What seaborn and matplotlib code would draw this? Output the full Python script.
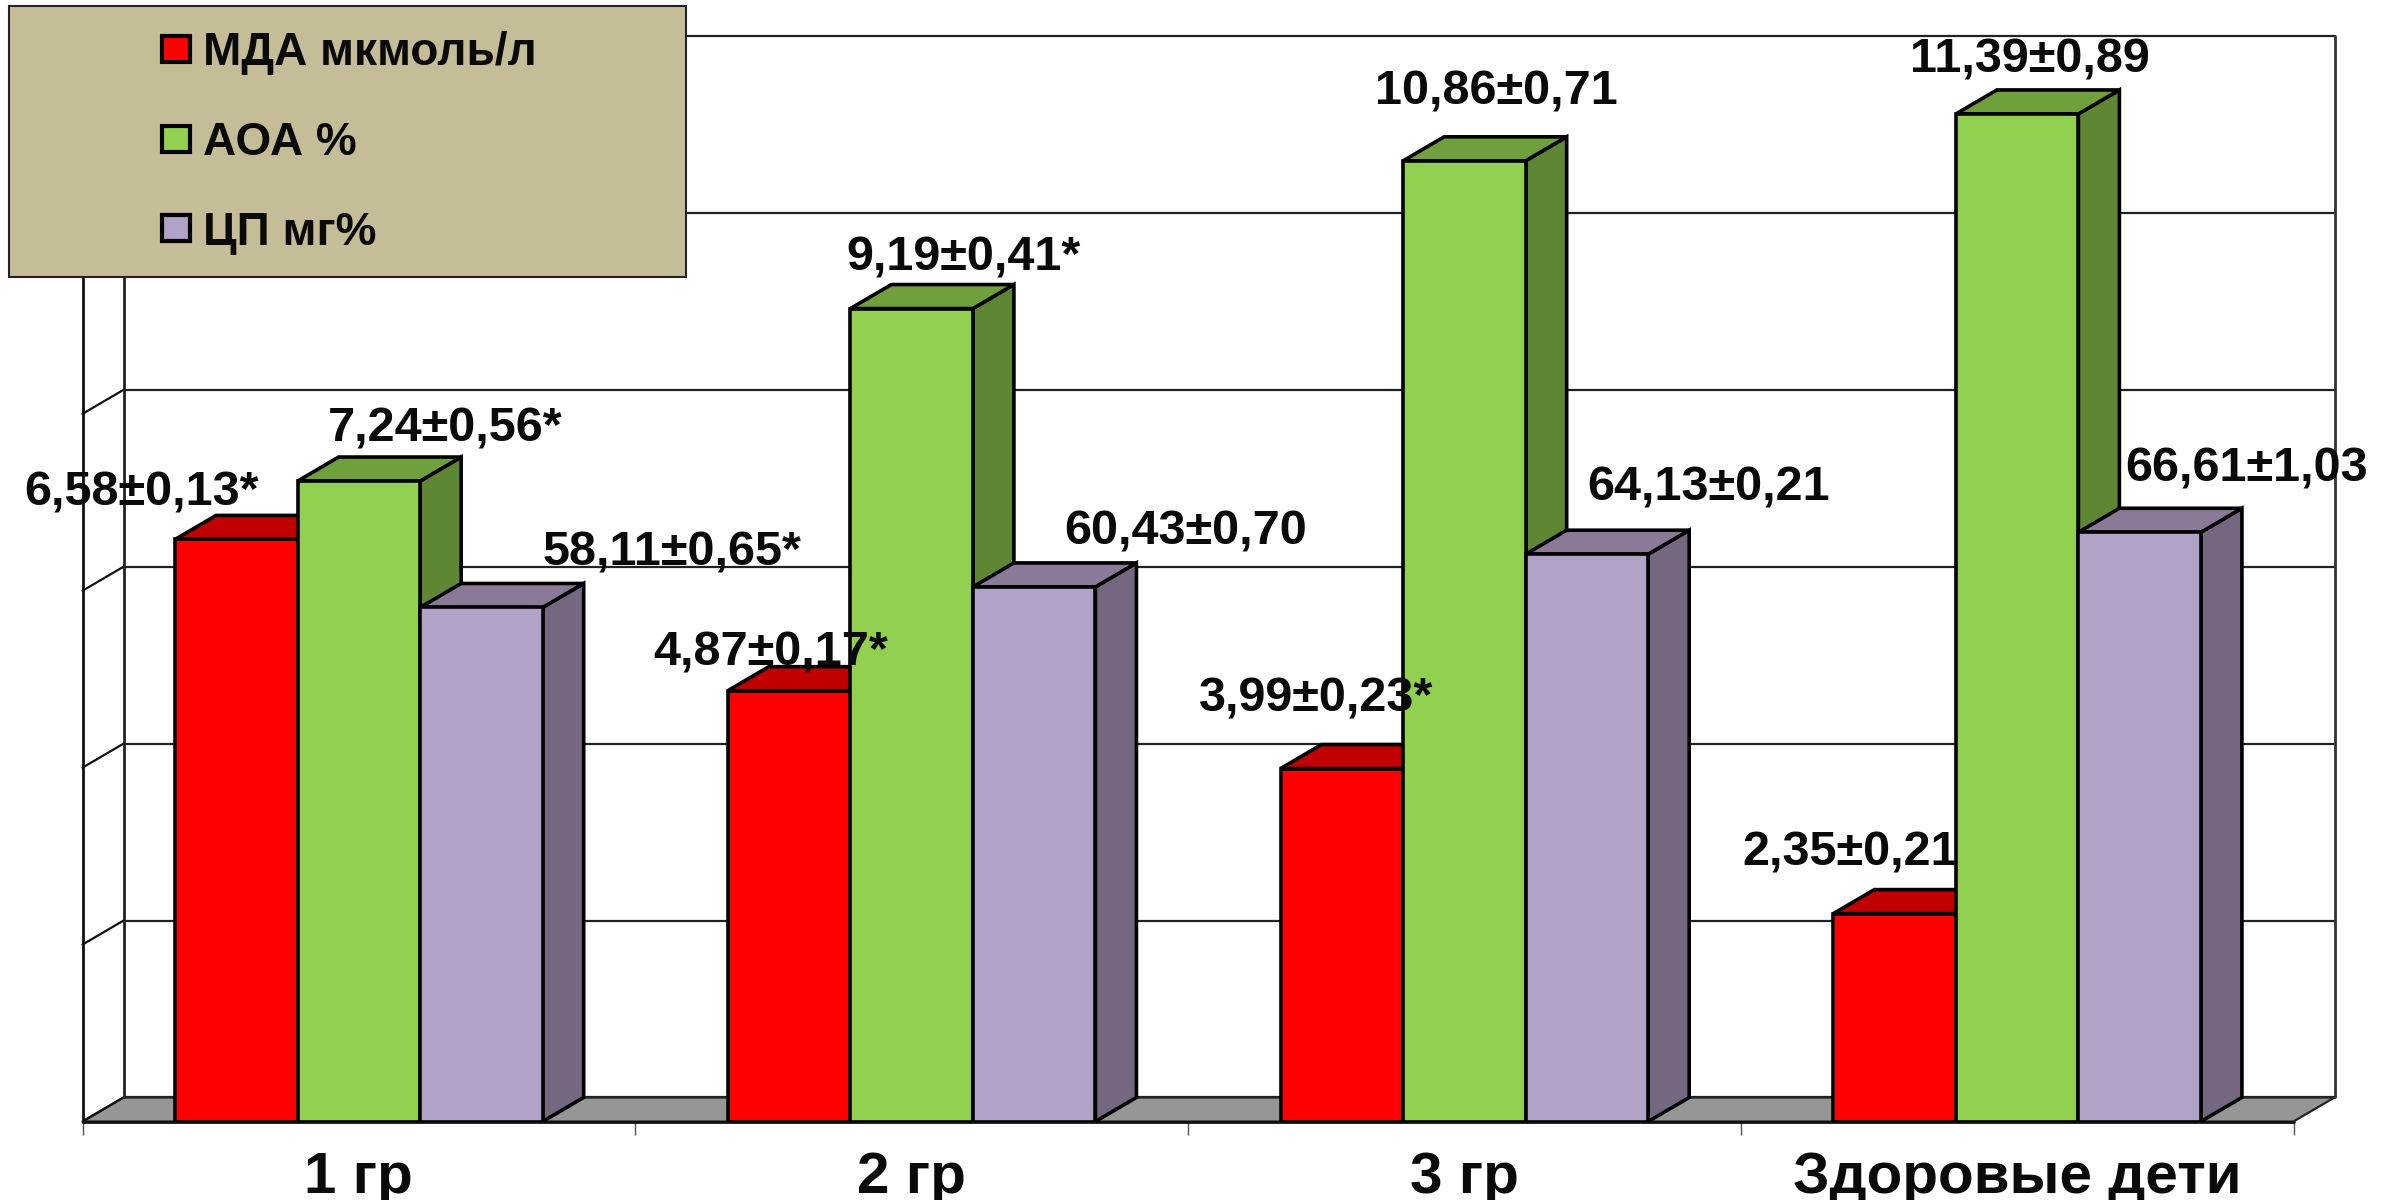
import numpy as np
import pandas as pd
import matplotlib
matplotlib.use("Agg")
import matplotlib.pyplot as plt
from matplotlib.patches import Polygon, Rectangle, Patch
import seaborn as sns

groups = ["1 гр", "2 гр", "3 гр", "Здоровые дети"]
series = ["МДА мкмоль/л", "АОА %", "ЦП мг%"]
mda = [6.58, 4.87, 3.99, 2.35]
aoa = [7.24, 9.19, 10.86, 11.39]
cp = [58.11, 60.43, 64.13, 66.61]
mda_labels = ["6,58±0,13*", "4,87±0,17*", "3,99±0,23*", "2,35±0,21"]
aoa_labels = ["7,24±0,56*", "9,19±0,41*", "10,86±0,71", "11,39±0,89"]
cp_labels = ["58,11±0,65*", "60,43±0,70", "64,13±0,21", "66,61±1,03"]
cp_axis_factor = 0.1   # ЦП is drawn at a tenth of its value on the shared axis

# style
front = ["#FF0000", "#92D050", "#B1A2C8"]
top = ["#C00000", "#6FA03C", "#8A7A98"]
side = ["#A00000", "#5F8733", "#75677F"]
FONT = "Liberation Sans"
FS = 35
FS_CAT = 42
W, H = 2399, 1200
AX_L, AX_R, AX_T, AX_B = 82.5, 2293.5, 60, 1121.5
DX, DY = 0.0742, 0.2715   # 3-D depth in data units
# label offsets in pixels from the front top-centre of each bar (rows: series)
OFFS = [[(-95, 46), (-18, 38), (-26, 70), (-44, 61)],
        [(86, 52), (52, 51), (32, 69), (13, 54)],
        [(191, 54), (151, 55), (122, 66), (107, 63)]]

sns.set_style("white")
plt.rcParams["font.family"] = [FONT, "DejaVu Sans"]
plt.rcParams["font.weight"] = "bold"

df = pd.DataFrame({
    "group": groups * 3,
    "series": np.repeat(series, 4),
    "value": mda + aoa + [v * cp_axis_factor for v in cp],
})

fig = plt.figure(figsize=(W / 100, H / 100), dpi=100)
ax = fig.add_axes([AX_L / W, 1 - AX_B / H, (AX_R - AX_L) / W, (AX_B - AX_T) / H])
sns.barplot(df, x="group", y="value", hue="series", hue_order=series, order=groups,
            palette=front, saturation=1, width=0.665, gap=0, edgecolor="black",
            linewidth=2.6, legend=False, ax=ax, errorbar=None)
ax.set_xlim(-0.5, 3.5)
ax.set_ylim(0, 12)
ax.set_xlabel("")
ax.set_ylabel("")
for s in ax.spines.values():
    s.set_visible(False)
ax.set_yticks([])
ax.set_xticks(range(4), groups, fontsize=FS_CAT, fontweight="bold", color="#0a0a0a")
ax.tick_params(axis="x", which="major", length=0, pad=21)
ax.set_xticks(np.arange(-0.5, 4, 1), minor=True)
ax.tick_params(axis="x", which="minor", length=9.5, width=1, color="#555555", bottom=True)

# walls and floor
x0, x1 = -0.5, 3.5
ax.add_patch(Polygon([(x0, 0), (x0 + DX, DY), (x1 + DX, DY), (x1, 0)], closed=True,
                     fc="#969696", ec="#222222", lw=1.6, clip_on=False, zorder=1))
for y in np.arange(0, 13, 2):
    ax.plot([x0 + DX, x1 + DX], [y + DY, y + DY], color="#222222", lw=1.6, clip_on=False, zorder=1.1)
    ax.plot([x0, x0 + DX], [y, y + DY], color="#111111", lw=1.6, clip_on=False, zorder=1.1)
ax.plot([x0, x0], [0, 12], color="#111111", lw=2, clip_on=False, zorder=1.1)
ax.plot([x0 + DX, x0 + DX], [DY, 12 + DY], color="#222222", lw=2, clip_on=False, zorder=1.1)
ax.plot([x1 + DX, x1 + DX], [DY, 12 + DY], color="#333333", lw=2, clip_on=False, zorder=1.1)
ax.plot([x0, x1], [0, 0], color="#111111", lw=2, clip_on=False, zorder=1.2)

# 3-D faces, painted from left to right
labels = [mda_labels, aoa_labels, cp_labels]
for g in range(4):
    for s, cont in enumerate(ax.containers):
        bar = cont.patches[g]
        z = 2 + g + s * 0.1
        l, w, h = bar.get_x(), bar.get_width(), bar.get_height()
        r = l + w
        ax.add_patch(Polygon([(r, 0), (r + DX, DY), (r + DX, h + DY), (r, h)], closed=True,
                             fc=side[s], ec="black", lw=2.6, joinstyle="miter", zorder=z))
        ax.add_patch(Polygon([(l, h), (l + DX, h + DY), (r + DX, h + DY), (r, h)], closed=True,
                             fc=top[s], ec="black", lw=2.6, joinstyle="miter", zorder=z + 0.01))
        bar.set_zorder(z + 0.02)
        ax.annotate(labels[s][g], xy=(l + w / 2, h), xytext=OFFS[s][g], textcoords="offset pixels",
                    ha="center", va="center", fontsize=FS, fontweight="bold", color="#0a0a0a",
                    annotation_clip=False, zorder=20)

# legend panel
fig.add_artist(Rectangle((9 / W, 1 - 277 / H), 677 / W, 271 / H, transform=fig.transFigure,
                         fc="#C4BD97", ec="#222222", lw=1.5, zorder=10))
handles = [Patch(fc=c, ec="black", lw=3, label=n) for c, n in zip(front, series)]
fig.legend(handles=handles, loc="upper left", bbox_to_anchor=(162 / W, 1 - 31 / H),
           frameon=False, fontsize=33, borderpad=0, borderaxespad=0, handlelength=0.62,
           handleheight=0.5, handletextpad=0.27, labelspacing=1.0,
           labelcolor="#0a0a0a").set_zorder(11)

fig.savefig("out.png", dpi=100)
